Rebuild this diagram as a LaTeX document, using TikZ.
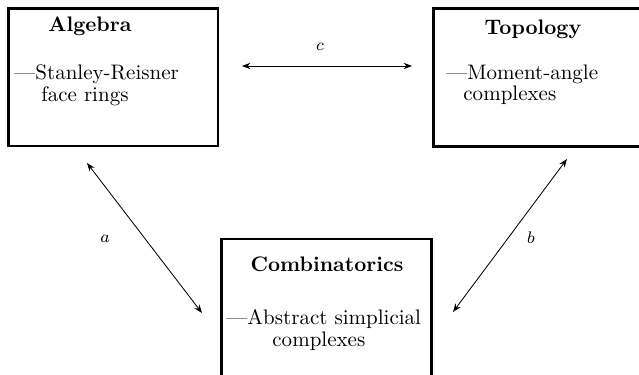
\documentclass[tikz,border=0pt]{standalone}
\usetikzlibrary{positioning,arrows.meta}

\begin{document}
\begin{tikzpicture}[x=0.476pt,y=-0.476pt,
    field/.style={draw,line width=1.4pt,inner sep=0pt},
    link/.style={{Stealth[length=4pt,width=3pt]}-{Stealth[length=4pt,width=3pt]},thin},
    lbl/.style={inner sep=1pt,font=\footnotesize}]
\useasboundingbox (0,0) rectangle (639,375);
% the three boxes
\node[field,minimum width=99.72pt,minimum height=65.45pt] (alg) at (113.25,77.25) {};
\node[field,minimum width=100.67pt,minimum height=65.69pt] (top) at (539.25,77.5) {};
\node[field,minimum width=99.96pt,minimum height=76.64pt] (comb) at (326.5,319.5) {};
% texts in the boxes
\node[anchor=base] (algT) at (90,32) {\bfseries Algebra};
\node[anchor=base west,inner sep=0pt] (alg1) at (14,80) {---Stanley-Reisner};
\node[anchor=base west,inner sep=0pt] (alg2) at (41,102) {face rings};
\node[anchor=base] (topT) at (533,35) {\bfseries Topology};
\node[anchor=base west,inner sep=0pt] (top1) at (446,80) {---Moment-angle};
\node[anchor=base west,inner sep=0pt] (top2) at (463,101) {complexes};
\node[anchor=base] (combT) at (327,272) {\bfseries Combinatorics};
\node[anchor=base west,inner sep=0pt] (comb1) at (226,325) {---Abstract simplicial};
\node[anchor=base west,inner sep=0pt] (comb2) at (272,347) {complexes};
% arrow ends
\coordinate (algE) at (242,66);
\coordinate (topW) at (412,66);
\coordinate (algS) at (87,163);
\coordinate (combW) at (202,313);
\coordinate (topS) at (567,159);
\coordinate (combE) at (453,312);
\draw[link] (algE)--(topW);
\draw[link] (algS)--(combW);
\draw[link] (topS)--(combE);
\node[lbl] (c) at (320,47) {$c$};
\node[lbl] (a) at (105,239) {$a$};
\node[lbl] (b) at (531,238) {$b$};
\end{tikzpicture}
\end{document}
